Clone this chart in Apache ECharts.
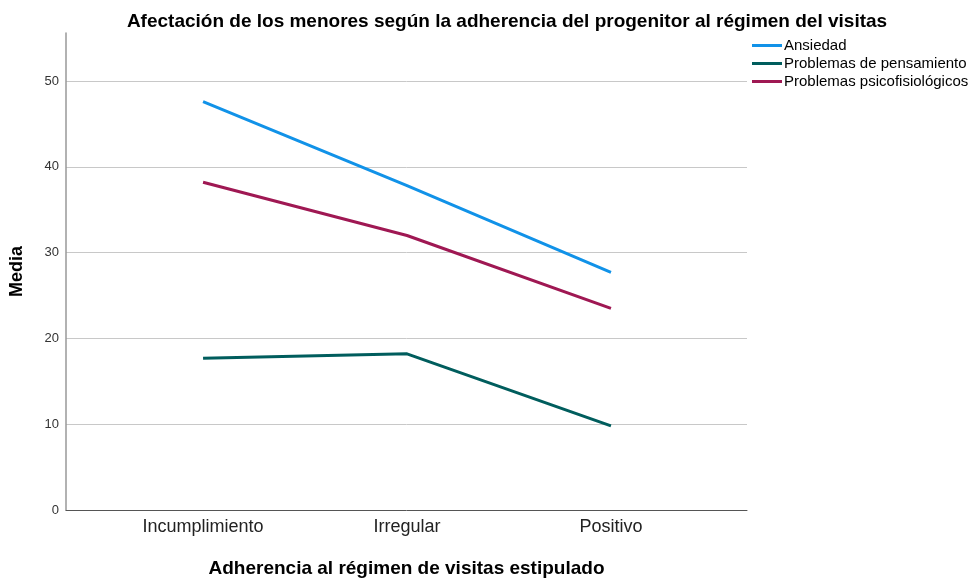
<!DOCTYPE html>
<html><head><meta charset="utf-8">
<script src="https://cdn.jsdelivr.net/npm/echarts@6/dist/echarts.min.js"></script>
<style>html,body{margin:0;padding:0;background:#fff}#c{width:975px;height:583px}</style>
</head><body><div id="c"></div>
<script>
const categories = ['Incumplimiento', 'Irregular', 'Positivo'];
const ansiedad = [47.6, 37.8, 27.7];
const pensamiento = [17.7, 18.2, 9.8];
const psicofisiologicos = [38.2, 32.0, 23.5];
const seriesNames = ['Ansiedad', 'Problemas de pensamiento', 'Problemas psicofisiológicos'];
const yTicks = [0, 10, 20, 30, 40, 50];

const F = '"Liberation Sans", Arial, sans-serif';
const colors = ['#1192e8', '#005d5d', '#9f1853'];
const toPts = arr => arr.map((v, i) => [i, v]);

const chart = echarts.init(document.getElementById('c'), null, {renderer: 'canvas'});
chart.setOption({
  animation: false,
  backgroundColor: '#fff',
  title: {
    text: 'Afectación de los menores según la adherencia del progenitor al régimen del visitas',
    left: 502, top: 7, textAlign: 'center',
    textStyle: {fontFamily: F, fontSize: 19, fontWeight: 'bold', color: '#000'}
  },
  legend: {
    orient: 'vertical', left: 747, top: 33,
    icon: 'rect', itemWidth: 30, itemHeight: 3, itemGap: 3,
    data: seriesNames,
    textStyle: {fontFamily: F, fontSize: 15, color: '#000', padding: [0, 0, 0, -3]}
  },
  grid: {left: 65, right: 228, top: 33, bottom: 70, containLabel: false},
  xAxis: {
    type: 'value', min: -0.672, max: 2.667,
    name: 'Adherencia al régimen de visitas estipulado',
    nameLocation: 'middle', nameGap: 49,
    nameTextStyle: {fontFamily: F, fontSize: 19, fontWeight: 'bold', color: '#000'},
    axisLine: {show: true, onZero: false, lineStyle: {color: '#555', width: 1}},
    axisTick: {show: false},
    splitLine: {show: false},
    axisLabel: {
      customValues: [0, 1, 2], margin: 8,
      fontFamily: F, fontSize: 18, color: '#222',
      formatter: v => categories[Math.round(v)] || ''
    }
  },
  yAxis: {
    type: 'value', min: 0, max: 55.6,
    name: 'Media', nameLocation: 'middle', nameGap: 40, nameRotate: 90,
    nameTextStyle: {fontFamily: F, fontSize: 18, fontWeight: 'bold', color: '#000'},
    axisLine: {show: true, onZero: false, lineStyle: {color: '#999', width: 1.5}},
    axisTick: {show: false},
    axisLabel: {
      customValues: yTicks, margin: 7,
      fontFamily: F, fontSize: 13, color: '#333'
    },
    splitLine: {show: true, showMinLine: false, showMaxLine: false, lineStyle: {color: '#c8c8c8', width: 1}},
    interval: 10
  },
  series: [
    {name: seriesNames[0], type: 'line', data: toPts(ansiedad), color: colors[0]},
    {name: seriesNames[1], type: 'line', data: toPts(pensamiento), color: colors[1]},
    {name: seriesNames[2], type: 'line', data: toPts(psicofisiologicos), color: colors[2]}
  ].map(s => Object.assign(s, {showSymbol: false, symbol: 'none', lineStyle: {width: 3, color: s.color}, itemStyle: {color: s.color}}))
});
</script></body></html>
